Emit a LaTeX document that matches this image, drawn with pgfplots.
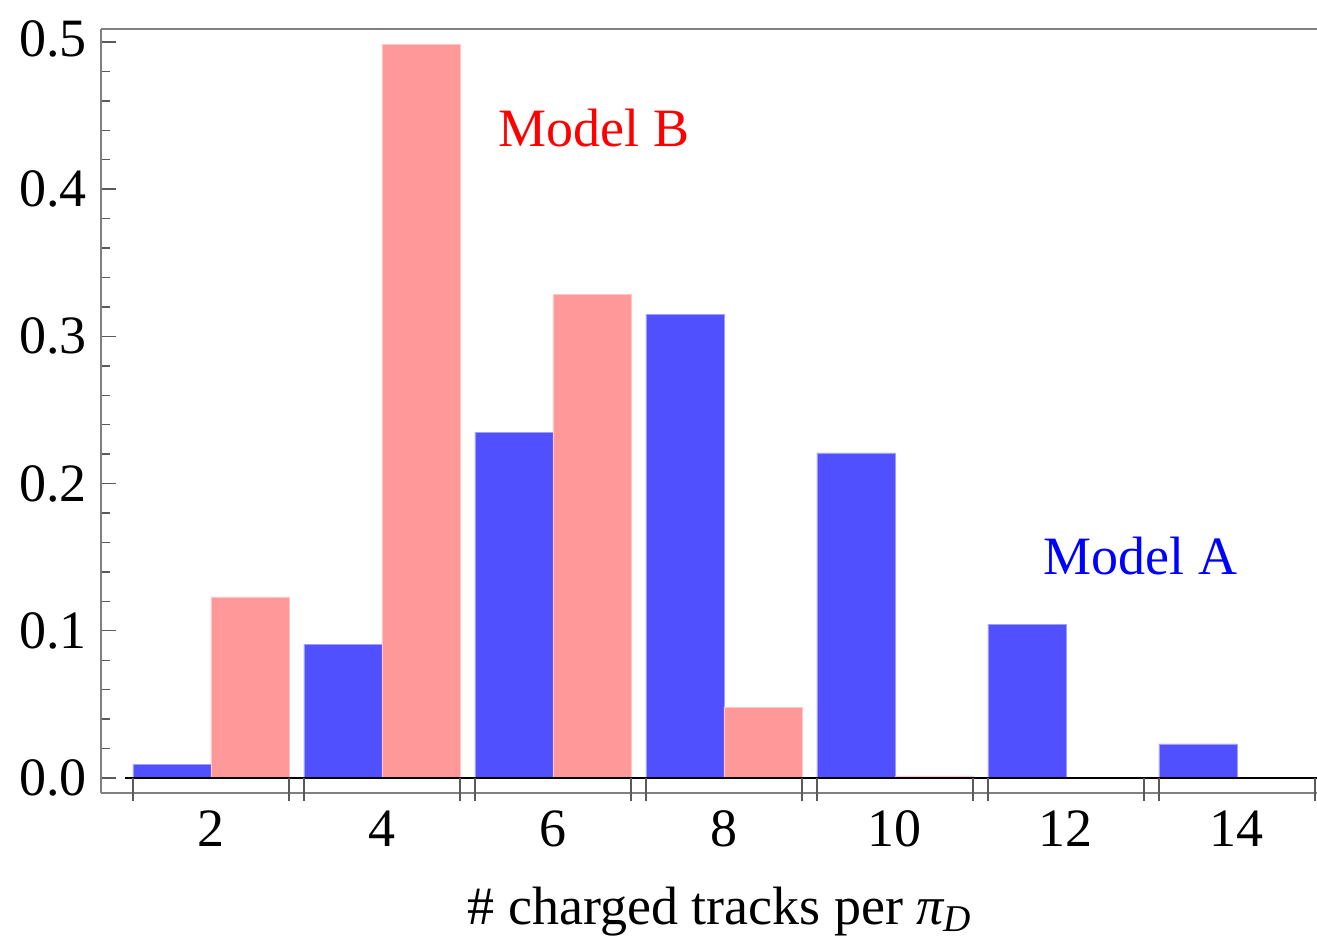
\documentclass[border=0pt]{standalone}
\usepackage{fontspec}
\setmainfont{Liberation Serif}
\usepackage{pgfplots}
\pgfplotsset{compat=1.18}
\definecolor{barA}{RGB}{80,80,255}
\definecolor{barB}{RGB}{255,153,153}
\definecolor{framec}{RGB}{128,128,128}
\definecolor{tickc}{RGB}{90,90,90}
\newcommand{\bigf}{\fontsize{27}{32}\selectfont}
\begin{document}
\begin{tikzpicture}
\begin{axis}[
  scale only axis, width=608pt, height=382pt,
  xmin=0.7135, xmax=14.936, ymin=-0.0102, ymax=0.50883,
  clip=false,
  axis x line*=box, axis y line*=left,
  axis line style={draw=framec, line width=0.75pt},
  tick align=inside,
  ytick pos=left,
  ytick={0,0.1,0.2,0.3,0.4,0.5},
  yticklabels={0.0,0.1,0.2,0.3,0.4,\raisebox{3.5pt}{0.5}},
  minor y tick num=4,
  major tick length=7.5pt, minor tick length=4.5pt,
  y tick style={draw=tickc, line width=0.7pt},
  xtick={2,4,6,8,10,12,14},
  xticklabels={2,4,6,8,10,12,14},
  x tick style={draw=none},
  xticklabel style={anchor=base, yshift=-26.5pt, font=\bigf},
  yticklabel style={anchor=east, inner sep=0pt, xshift=-7pt, font=\bigf},
  xlabel={\# charged tracks per {\itshape π}\textsubscript{\itshape D}},
  xlabel style={at={(axis description cs:0.5,0)}, anchor=base, yshift=-65.5pt, xshift=5.5pt, font=\bigf},
]
\addplot[ybar, bar width=0.9123, bar shift=-0.45615, fill=barA, draw=barA!55!white, line width=0.4pt]
  coordinates {(2,0.0095) (4,0.0910) (6,0.2350) (8,0.3147) (10,0.2208) (12,0.1046) (14,0.0231)};
\addplot[ybar, bar width=0.9123, bar shift=0.45615, fill=barB, draw=barB!55!white, line width=0.4pt]
  coordinates {(2,0.1230) (4,0.4986) (6,0.3283) (8,0.0482) (10,0.0014)};
\draw[black, line width=0.6pt] (axis cs:0.994,0) -- (axis cs:14.936,0);
\draw[tickc, line width=0.75pt]
  (axis cs:1.0877,0) -- ++(0pt,-11.5pt)
  (axis cs:2.9123,0) -- ++(0pt,-11.5pt)
  (axis cs:3.0877,0) -- ++(0pt,-11.5pt)
  (axis cs:4.9123,0) -- ++(0pt,-11.5pt)
  (axis cs:5.0877,0) -- ++(0pt,-11.5pt)
  (axis cs:6.9123,0) -- ++(0pt,-11.5pt)
  (axis cs:7.0877,0) -- ++(0pt,-11.5pt)
  (axis cs:8.9123,0) -- ++(0pt,-11.5pt)
  (axis cs:9.0877,0) -- ++(0pt,-11.5pt)
  (axis cs:10.9123,0) -- ++(0pt,-11.5pt)
  (axis cs:11.0877,0) -- ++(0pt,-11.5pt)
  (axis cs:12.9123,0) -- ++(0pt,-11.5pt)
  (axis cs:13.0877,0) -- ++(0pt,-11.5pt)
  (axis cs:14.9123,0) -- ++(0pt,-11.5pt);
\node[text=red, anchor=base, font=\bigf, inner sep=0pt] at (axis cs:6.479,0.4287) {Model B};
\node[text=blue, anchor=base, font=\bigf, inner sep=0pt] at (axis cs:12.871,0.1379) {Model A};
\end{axis}
\path (current axis.south west) ++(-50.5pt,-72pt) coordinate (bbA);
\path (current axis.north east) ++(0pt,14.5pt) coordinate (bbB);
\pgfresetboundingbox
\useasboundingbox (bbA) rectangle (bbB);
\end{tikzpicture}
\end{document}
